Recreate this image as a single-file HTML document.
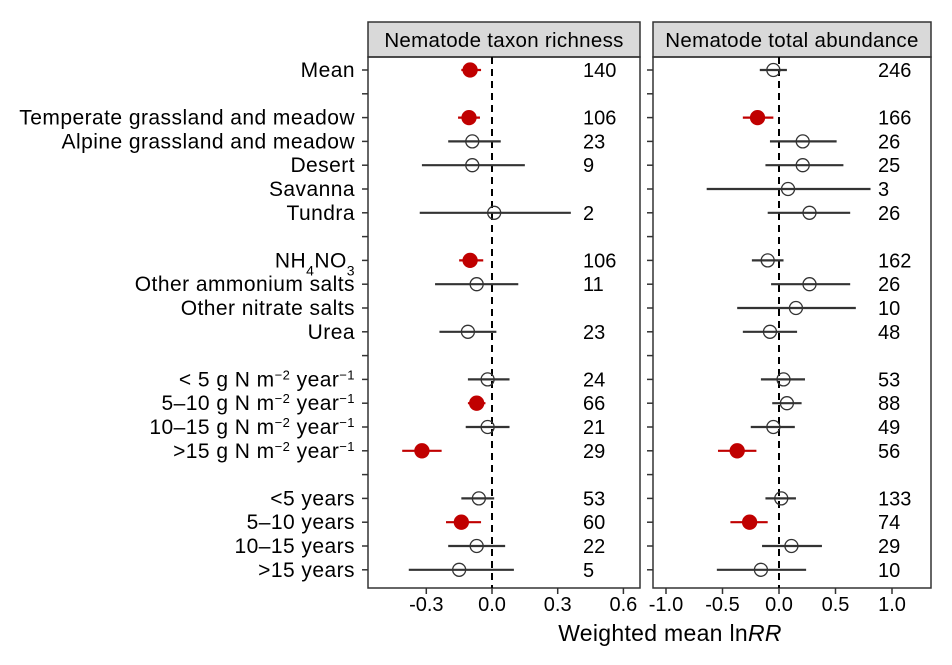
<!DOCTYPE html>
<html><head><meta charset="utf-8"><style>
body{margin:0;background:#fff;}
svg text{font-family:"Liberation Sans",Arial,sans-serif;fill:#000;}
</style></head><body>
<svg id="c" width="952" height="660" viewBox="0 0 952 660"></svg>
<script>
const categories=["Mean","","Temperate grassland and meadow","Alpine grassland and meadow","Desert","Savanna","Tundra","","NH4NO3","Other ammonium salts","Other nitrate salts","Urea","","<5g","5-10g","10-15g",">15g","","<5 years","5–10 years","10–15 years",">15 years"];
const richEst=[-0.1,null,-0.105,-0.09,-0.09,null,0.01,null,-0.1,-0.07,null,-0.11,null,-0.02,-0.07,-0.02,-0.32,null,-0.06,-0.14,-0.07,-0.15];
const richLo=[-0.14,null,-0.155,-0.2,-0.32,null,-0.33,null,-0.15,-0.26,null,-0.24,null,-0.11,-0.11,-0.12,-0.41,null,-0.14,-0.21,-0.2,-0.38];
const richHi=[-0.05,null,-0.055,0.04,0.15,null,0.36,null,-0.04,0.12,null,0.02,null,0.08,-0.03,0.08,-0.23,null,0.01,-0.05,0.06,0.1];
const richSig=[1,0,1,0,0,0,0,0,1,0,0,0,0,0,1,0,1,0,0,1,0,0];
const richN=["140","","106","23","9","","2","","106","11","","23","","24","66","21","29","","53","60","22","5"];
const abEst=[-0.05,null,-0.19,0.21,0.21,0.08,0.27,null,-0.1,0.27,0.15,-0.08,null,0.04,0.07,-0.05,-0.37,null,0.02,-0.26,0.11,-0.16];
const abLo=[-0.17,null,-0.32,-0.08,-0.12,-0.64,-0.1,null,-0.24,-0.07,-0.37,-0.32,null,-0.16,-0.06,-0.25,-0.54,null,-0.12,-0.43,-0.15,-0.55];
const abHi=[0.07,null,-0.05,0.51,0.57,0.81,0.63,null,0.04,0.63,0.68,0.16,null,0.23,0.2,0.14,-0.2,null,0.15,-0.1,0.38,0.24];
const abSig=[0,0,1,0,0,0,0,0,0,0,0,0,0,0,0,0,1,0,0,1,0,0];
const abN=["246","","166","26","25","3","26","","162","26","10","48","","53","88","49","56","","133","74","29","10"];
const richTicks=[-0.3,0,0.3,0.6], richTickLab=["-0.3","0.0","0.3","0.6"];
const abTicks=[-1,-0.5,0,0.5,1], abTickLab=["-1.0","-0.5","0.0","0.5","1.0"];

const svg=document.getElementById('c');
const NS='http://www.w3.org/2000/svg';
function mk(t,a,p){const e=document.createElementNS(NS,t);for(const k in a)e.setAttribute(k,a[k]);(p||svg).appendChild(e);return e;}
const y=i=>70+i*23.8;
function panel(x0,x1,zeroX,scale,title,est,lo,hi,sig,n,ticks,tlab,nx,key){
  const sx=v=>zeroX+v*scale;
  const g=mk('g',{});
  
  
  const st=mk('rect',{x:x0,y:22,width:x1-x0,height:35,fill:'#d9d9d9',stroke:'#333','stroke-width':1.5},g);
  
  const tt=mk('text',{x:(x0+x1)/2,y:47,'font-size':20.5,'letter-spacing':0.3,'text-anchor':'middle'},g);tt.textContent=title;
  
  const b=mk('rect',{x:x0,y:57,width:x1-x0,height:531,fill:'none',stroke:'#333','stroke-width':1.5},g);
  
  const zl=mk('line',{x1:zeroX,x2:zeroX,y1:57,y2:588,stroke:'#000','stroke-width':2,'stroke-dasharray':'7,5'},g);
  
  ticks.forEach((t,i)=>{const X=sx(t);
    mk('line',{x1:X,x2:X,y1:588,y2:594,stroke:'#333','stroke-width':1.5},g);
    const tx=mk('text',{x:X,y:611,'font-size':20,'text-anchor':'middle',fill:'#222'},g);tx.textContent=tlab[i];
    });
  categories.forEach((c,i)=>{
    mk('line',{x1:x0-6,x2:x0,y1:y(i),y2:y(i),stroke:'#333','stroke-width':1.5},g);
    if(est[i]!==null){
      const ln=mk('line',{x1:sx(lo[i]),x2:sx(hi[i]),y1:y(i),y2:y(i),stroke:sig[i]?'#c00000':'#333','stroke-width':2.2},g);
      
      const p=mk('circle',{cx:sx(est[i]),cy:y(i),r:sig[i]?7:6.5,fill:sig[i]?'#c00000':'#fff','fill-opacity':sig[i]?1:0,stroke:sig[i]?'#c00000':'#333','stroke-width':1.3},g);
      
    }
    if(n[i]){const t=mk('text',{x:nx,y:y(i)+7,'font-size':20},g);t.textContent=n[i];
      }
  });
}
panel(368,640,492,219,'Nematode taxon richness',richEst,richLo,richHi,richSig,richN,richTicks,richTickLab,583,'richness');
panel(653,931,779,113,'Nematode total abundance',abEst,abLo,abHi,abSig,abN,abTicks,abTickLab,878,'abundance');

const labs=["Mean","","Temperate grassland and meadow","Alpine grassland and meadow","Desert","Savanna","Tundra","",'NH<tspan baseline-shift="sub" font-size="14">4</tspan>NO<tspan baseline-shift="sub" font-size="14">3</tspan>',"Other ammonium salts","Other nitrate salts","Urea","",
'&lt; 5 g N m<tspan baseline-shift="super" font-size="13">−2</tspan> year<tspan baseline-shift="super" font-size="13">−1</tspan>',
'5–10 g N m<tspan baseline-shift="super" font-size="13">−2</tspan> year<tspan baseline-shift="super" font-size="13">−1</tspan>',
'10–15 g N m<tspan baseline-shift="super" font-size="13">−2</tspan> year<tspan baseline-shift="super" font-size="13">−1</tspan>',
'&gt;15 g N m<tspan baseline-shift="super" font-size="13">−2</tspan> year<tspan baseline-shift="super" font-size="13">−1</tspan>',
"","&lt;5 years","5–10 years","10–15 years","&gt;15 years"];
labs.forEach((l,i)=>{if(!l)return;const t=mk('text',{x:355,y:y(i)+7,'font-size':21,'letter-spacing':0.45,'text-anchor':'end'});t.innerHTML=l;
  });
const xt=mk('text',{x:670,y:641,'font-size':23,'letter-spacing':0.3,'text-anchor':'middle',fill:'#222'});
xt.innerHTML='Weighted mean ln<tspan font-style="italic">RR</tspan>';

</script>
</body></html>
